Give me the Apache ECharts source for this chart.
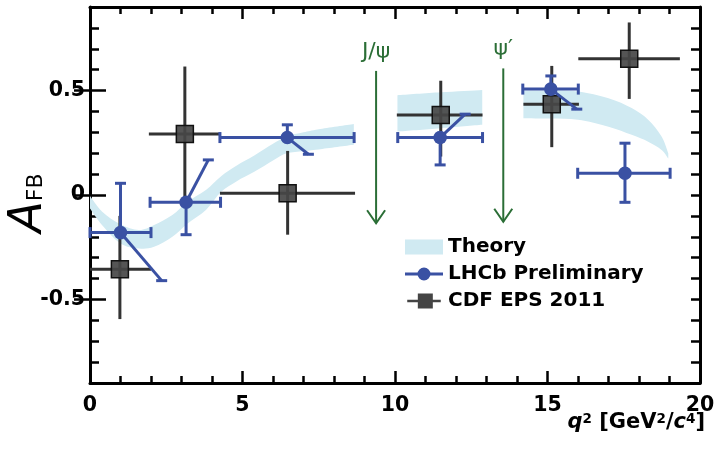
<!DOCTYPE html>
<html><head><meta charset="utf-8">
<script src="https://cdn.jsdelivr.net/npm/echarts@6/dist/echarts.min.js"></script>
<style>html,body{margin:0;padding:0;background:#fff}#c{width:715px;height:449px}</style>
</head><body><div id="c"></div>
<script>
// ---- axis ticks ----
const yMajorTicks = [-0.5, 0, 0.5];

// ---- Theory band (three segments) ----
const theory1X  = [0, 0.4, 1.0, 1.6, 2.1, 2.7, 3.2, 3.8, 4.3, 4.8, 5.4, 6.0, 6.45, 7.0, 7.5, 8.65];
const theory1Lo = [-0.065, -0.145, -0.232, -0.256, -0.248, -0.2, -0.136, -0.072, 0.015, 0.065, 0.112, 0.165, 0.2, 0.21, 0.218, 0.24];
const theory1Hi = [-0.005, -0.08, -0.14, -0.168, -0.144, -0.096, -0.032, 0.024, 0.09, 0.14, 0.19, 0.245, 0.28, 0.3, 0.315, 0.34];
const theory2X  = [10.08, 11.5, 12.86];
const theory2Lo = [0.304, 0.32, 0.336];
const theory2Hi = [0.478, 0.492, 0.503];
const theory3X  = [14.21, 15.1, 16.0, 17.0, 17.76, 18.3, 18.74, 18.96];
const theory3Lo = [0.368, 0.366, 0.36, 0.327, 0.288, 0.255, 0.216, 0.175];
const theory3Hi = [0.5, 0.5, 0.495, 0.463, 0.416, 0.36, 0.28, 0.2];

// ---- LHCb Preliminary ----
const lhcbX    = [1.0, 3.15, 6.47, 11.48, 15.11, 17.54];
const lhcbY    = [-0.18, -0.035, 0.275, 0.275, 0.507, 0.104];
const lhcbXLo  = [0.0, 1.97, 4.26, 10.09, 14.19, 15.99];
const lhcbXHi  = [2.0, 4.28, 8.66, 12.87, 16.01, 19.02];
const lhcbYLo  = [-0.41, -0.19, 0.195, 0.144, 0.411, -0.035];
const lhcbYHi  = [0.056, 0.168, 0.336, 0.387, 0.57, 0.248];
const lhcbYLoAtX = [2.35, 3.15, 7.16, 11.48, 15.96, 17.54];   // x where the lower error bar ends
const lhcbYHiAtX = [1.0, 3.88, 6.47, 12.30, 15.11, 17.54];    // x where the upper error bar ends

// ---- CDF EPS 2011 ----
const cdfX   = [0.98, 3.11, 6.48, 11.5, 15.14, 17.68];
const cdfY   = [-0.355, 0.292, 0.008, 0.383, 0.435, 0.652];
const cdfXLo = [0.0, 1.93, 4.26, 10.06, 14.21, 16.01];
const cdfXHi = [2.0, 4.23, 8.69, 12.87, 16.03, 19.34];
const cdfYLo = [-0.594, -0.03, -0.19, 0.184, 0.229, 0.46];
const cdfYHi = [-0.1, 0.615, 0.211, 0.547, 0.618, 0.826];

// ---- resonance markers ----
const resX      = [9.38, 13.55];
const resTop    = [0.594, 0.606];
const resBottom = [-0.135, -0.128];
const resLabel  = ['J/\u03C8', '\u03C8\u2032'];

const BLUE = '#3a51a3', DARK = '#333333', BAND = '#d0eaf2', GREEN = '#2b6e36';
const FONT = '"DejaVu Sans", Verdana, sans-serif';

const theorySegs = [
  [theory1X, theory1Lo, theory1Hi],
  [theory2X, theory2Lo, theory2Hi],
  [theory3X, theory3Lo, theory3Hi]
];

function smoothTo(pts) {
  let d = '';
  for (let i = 0; i < pts.length - 1; i++) {
    const p0 = pts[Math.max(0, i - 1)], p1 = pts[i], p2 = pts[i + 1], p3 = pts[Math.min(pts.length - 1, i + 2)];
    const c1 = [p1[0] + (p2[0] - p0[0]) / 6, p1[1] + (p2[1] - p0[1]) / 6];
    const c2 = [p2[0] - (p3[0] - p1[0]) / 6, p2[1] - (p3[1] - p1[1]) / 6];
    d += ' C' + c1[0] + ',' + c1[1] + ' ' + c2[0] + ',' + c2[1] + ' ' + p2[0] + ',' + p2[1];
  }
  return d;
}

function renderBand(params, api) {
  const s = theorySegs[params.dataIndex];
  const up = s[0].map((x, i) => api.coord([x, s[2][i]]));
  const lo = s[0].map((x, i) => api.coord([x, s[1][i]])).reverse();
  let d = 'M' + up[0][0] + ',' + up[0][1] + smoothTo(up);
  d += ' L' + lo[0][0] + ',' + lo[0][1] + smoothTo(lo) + ' Z';
  return { type: 'path', shape: { pathData: d }, style: { fill: BAND, stroke: null } };
}

function seg(a, b, st) { return { type: 'line', shape: { x1: a[0], y1: a[1], x2: b[0], y2: b[1] }, style: st }; }

function renderLhcb(params, api) {
  const p = api.coord([api.value(0), api.value(1)]);
  const l = api.coord([api.value(2), api.value(1)]);
  const r = api.coord([api.value(3), api.value(1)]);
  const lo = api.coord([api.value(6), api.value(4)]);
  const hi = api.coord([api.value(7), api.value(5)]);
  const st = { stroke: BLUE, lineWidth: 3, fill: null };
  const c = 5.5;
  return { type: 'group', children: [
    seg(l, r, st),
    seg([l[0], l[1] - c], [l[0], l[1] + c], st),
    seg([r[0], r[1] - c], [r[0], r[1] + c], st),
    seg(p, lo, st), seg([lo[0] - c, lo[1]], [lo[0] + c, lo[1]], st),
    seg(p, hi, st), seg([hi[0] - c, hi[1]], [hi[0] + c, hi[1]], st),
    { type: 'circle', shape: { cx: p[0], cy: p[1], r: 6.8 }, style: { fill: BLUE } }
  ]};
}

function renderCdf(params, api) {
  const p = api.coord([api.value(0), api.value(1)]);
  const l = api.coord([api.value(2), api.value(1)]);
  const r = api.coord([api.value(3), api.value(1)]);
  const lo = api.coord([api.value(0), api.value(4)]);
  const hi = api.coord([api.value(0), api.value(5)]);
  const st = { stroke: DARK, lineWidth: 3, fill: null };
  const s = 8.5;
  return { type: 'group', children: [
    seg(l, r, st), seg(lo, hi, st),
    { type: 'rect', shape: { x: p[0] - s, y: p[1] - s, width: 2 * s, height: 2 * s },
      style: { fill: 'rgba(70,70,70,0.92)', stroke: '#111', lineWidth: 1.5 } }
  ]};
}

function renderRes(params, api) {
  const t = api.coord([api.value(0), api.value(1)]);
  const b = api.coord([api.value(0), api.value(2)]);
  const st = { stroke: GREEN, lineWidth: 2, fill: null };
  return { type: 'group', children: [
    seg(t, b, st),
    { type: 'polyline', shape: { points: [[b[0] - 9, b[1] - 13], [b[0], b[1]], [b[0] + 9, b[1] - 13]] }, style: st },
    { type: 'text', style: { text: resLabel[params.dataIndex], x: t[0], y: t[1] - 19,
      fill: GREEN, fontSize: 22, fontFamily: FONT, align: 'center', verticalAlign: 'middle' } }
  ]};
}

const bandData = theorySegs.map(s => [s[0][0], s[1][0]]);
const lhcbData = lhcbX.map((x, i) => [x, lhcbY[i], lhcbXLo[i], lhcbXHi[i], lhcbYLo[i], lhcbYHi[i], lhcbYLoAtX[i], lhcbYHiAtX[i]]);
const cdfData = cdfX.map((x, i) => [x, cdfY[i], cdfXLo[i], cdfXHi[i], cdfYLo[i], cdfYHi[i]]);
const resData = resX.map((x, i) => [x, resTop[i], resBottom[i]]);

const tickStyle = { color: '#000', width: 2.5 };
const lineStyle = { color: '#000', width: 3 };
const LABEL = { fontSize: 20.5, fontWeight: 'bold', color: '#000', fontFamily: FONT };
function xAx(pos, withLabels) {
  const a = {
    type: 'value', min: 0, max: 20, interval: 5, position: pos,
    axisLine: { show: true, onZero: false, lineStyle },
    axisTick: { show: true, inside: true, length: 12, lineStyle: tickStyle },
    minorTick: { show: true, splitNumber: 5, length: 7, lineStyle: tickStyle },
    splitLine: { show: false }, minorSplitLine: { show: false },
    axisLabel: Object.assign({ show: withLabels, margin: 12 }, LABEL)
  };
  if (withLabels) {
    a.name = '{q|q}{sup|2}{n| [GeV}{sup|2}{n|/}{q|c}{sup|4}{n|]}';
    a.nameLocation = 'end';
    a.nameGap = 5;
    a.nameMoveOverlap = false;
    a.nameTextStyle = {
      align: 'right', verticalAlign: 'top', padding: [29, 0, 0, 0],
      rich: {
        q: { fontSize: 21, fontWeight: 'bold', fontStyle: 'italic', fontFamily: FONT, color: '#000' },
        n: { fontSize: 21, fontWeight: 'bold', fontFamily: FONT, color: '#000' },
        sup: { fontSize: 13.5, fontWeight: 'bold', fontFamily: FONT, color: '#000', verticalAlign: 'top' }
      }
    };
  }
  return a;
}
function yMinor(pos, withLabels) {
  const a = {
    type: 'value', min: -0.9, max: 0.9, interval: 0.1, position: pos,
    axisLine: { show: true, onZero: false, lineStyle },
    axisTick: { show: true, inside: true, length: 9, lineStyle: tickStyle },
    splitLine: { show: false },
    axisLabel: Object.assign({ show: withLabels, margin: 5,
      formatter: v => { const k = Math.round(v * 10); return (Math.abs(k) % 5 === 0) ? String(k / 10) : ''; } }, LABEL)
  };
  if (withLabels) {
    a.name = '{a|A}{fb|FB}';
    a.nameLocation = 'middle';
    a.nameRotate = 90;
    a.nameGap = 38;
    a.nameMoveOverlap = false;
    a.nameTextStyle = { padding: [0, 16, 0, 0], rich: {
      a: { fontSize: 46, fontStyle: 'italic', fontFamily: FONT, color: '#000', verticalAlign: 'bottom' },
      fb: { fontSize: 22, fontFamily: FONT, color: '#000', verticalAlign: 'bottom', padding: [0, 0, 5, 0] }
    } };
  }
  return a;
}
function yMajor(pos) {
  return {
    type: 'value', min: -0.9, max: 0.9, position: pos,
    axisLine: { show: false },
    axisTick: { show: true, inside: true, length: 16, lineStyle: tickStyle, customValues: yMajorTicks },
    axisLabel: { show: false }, splitLine: { show: false }
  };
}

const chart = echarts.init(document.getElementById('c'), null, { renderer: 'canvas' });
chart.setOption({
  animation: false,
  backgroundColor: '#fff',
  grid: { left: 90, right: 15, top: 7, bottom: 66, containLabel: false, outerBoundsMode: 'none' },
  xAxis: [xAx('bottom', true), xAx('top', false)],
  yAxis: [yMinor('left', true), yMajor('left'), yMinor('right', false), yMajor('right')],
  legend: {
    orient: 'vertical', left: 405, top: 237, padding: 0, itemWidth: 38, itemHeight: 15, itemGap: 7,
    selectedMode: false,
    textStyle: { fontSize: 20, fontWeight: 'bold', color: '#000', fontFamily: FONT },
    data: [
      { name: 'Theory', icon: 'rect' },
      { name: 'LHCb Preliminary', icon: 'path://M0,6H38V9H0Z M12.5,7.5A6.5,6.5 0 1,1 25.5,7.5A6.5,6.5 0 1,1 12.5,7.5Z' },
      { name: 'CDF EPS 2011', icon: 'path://M0,7H38V10H0Z M12,0H29V17H12Z' }
    ]
  },
  series: [
    { type: 'custom', name: 'Theory', renderItem: renderBand, data: bandData,
      itemStyle: { color: BAND }, z: 1, silent: true },
    { type: 'custom', name: 'CDF EPS 2011', renderItem: renderCdf, data: cdfData,
      itemStyle: { color: '#444' }, encode: { x: [0, 2, 3], y: [1, 4, 5] }, z: 3, silent: true },
    { type: 'custom', name: 'LHCb Preliminary', renderItem: renderLhcb, data: lhcbData,
      itemStyle: { color: BLUE }, encode: { x: [0, 2, 3], y: [1, 4, 5] }, z: 4, silent: true },
    { type: 'custom', name: 'resonances', renderItem: renderRes, data: resData,
      encode: { x: 0, y: [1, 2] }, z: 5, silent: true }
  ]
});
</script></body></html>
